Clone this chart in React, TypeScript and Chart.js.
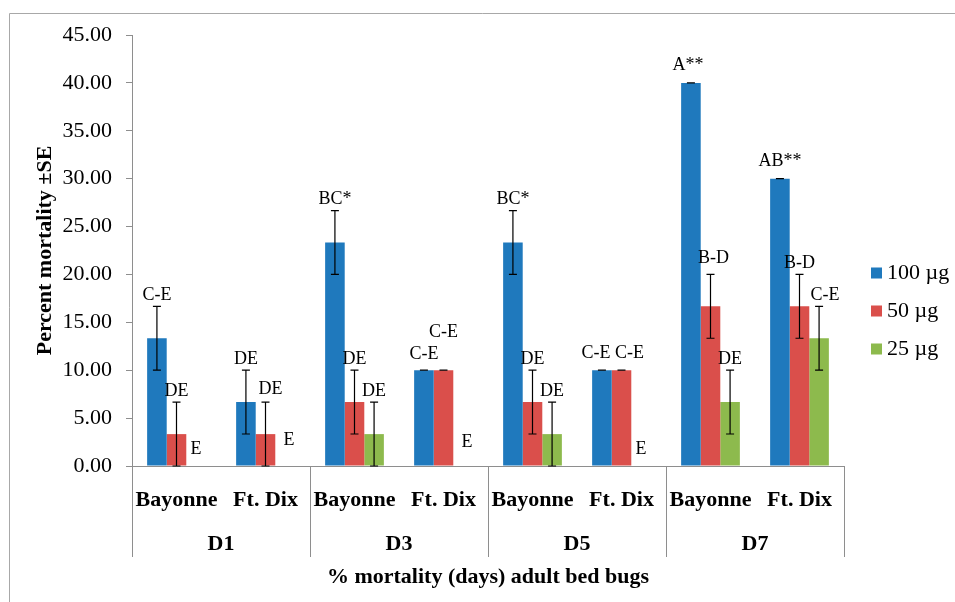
import React, { useEffect, useRef } from 'react';
import { Chart, registerables } from 'chart.js';

Chart.register(...registerables);

// ---------- data ----------
const CATEGORIES = ['Bayonne', 'Ft. Dix', 'Bayonne', 'Ft. Dix', 'Bayonne', 'Ft. Dix', 'Bayonne', 'Ft. Dix'];
const DAYS = ['D1', 'D3', 'D5', 'D7'];
const SERIES_NAMES = ['100 µg', '50 µg', '25 µg'];

const MORT_100 = [13.33, 6.67, 23.33, 10, 23.33, 10, 40, 30];
const SE_100 = [3.33, 3.33, 3.33, 0, 3.33, 0, 0, 0];
const MORT_50 = [3.33, 3.33, 6.67, 10, 6.67, 10, 16.67, 16.67];
const SE_50 = [3.33, 3.33, 3.33, 0, 3.33, 0, 3.33, 3.33];
const MORT_25 = [0, 0, 3.33, 0, 3.33, 0, 6.67, 13.33];
const SE_25 = [0, 0, 3.33, 0, 3.33, 0, 3.33, 3.33];

const LETTERS_100 = ['C-E', 'DE', 'BC*', 'C-E', 'BC*', 'C-E', 'A**', 'AB**'];
const LETTERS_50 = ['DE', 'DE', 'DE', 'C-E', 'DE', 'C-E', 'B-D', 'B-D'];
const LETTERS_25 = ['E', 'E', 'DE', 'E', 'DE', 'E', 'DE', 'C-E'];

const Y_MIN = 0;
const Y_MAX = 45;
const Y_STEP = 5;

const Y_TITLE = 'Percent mortality ±SE';
const X_TITLE = '% mortality (days) adult bed bugs';

// ---------- style ----------
const COLORS = ['#1f79bd', '#da4f4b', '#8dba4d'];
const AXIS_GRAY = '#8e8e8e';
const FRAME_GRAY = '#a8a8a8';
const SERIF = '"Liberation Serif", "DejaVu Serif", serif';

// label nudges (dx, extra lift in px) keyed "series-index"
const LABEL_NUDGE: Record<string, [number, number]> = {
  '0-3': [0, 5], '0-5': [-6, 6], '0-6': [-3, 7], '0-7': [0, 6],
  '1-1': [5, 2], '1-3': [0, 27], '1-5': [8, 6], '1-6': [3, 5],
  '2-0': [0, 6], '2-1': [4, 15], '2-3': [4, 13], '2-5': [0, 6], '2-7': [6, 0],
};

const values = [MORT_100, MORT_50, MORT_25];
const errors = [SE_100, SE_50, SE_25];
const letters = [LETTERS_100, LETTERS_50, LETTERS_25];

const overlayPlugin = {
  id: 'overlay',
  beforeDraw(chart: any) {
    const ctx = chart.ctx;
    ctx.save();
    ctx.strokeStyle = FRAME_GRAY;
    ctx.lineWidth = 1;
    ctx.beginPath();
    ctx.moveTo(9.5, chart.height);
    ctx.lineTo(9.5, 13.5);
    ctx.lineTo(chart.width, 13.5);
    ctx.stroke();
    ctx.restore();
  },
  afterDatasetsDraw(chart: any) {
    const ctx = chart.ctx;
    const y = chart.scales.y;
    ctx.save();
    ctx.strokeStyle = '#000';
    ctx.lineWidth = 1.2;
    for (let s = 0; s < values.length; s++) {
      const meta = chart.getDatasetMeta(s);
      meta.data.forEach((el: any, i: number) => {
        const v = values[s][i];
        const e = errors[s][i];
        const x = el.x;
        const top = y.getPixelForValue(v + e);
        const bot = y.getPixelForValue(Math.max(0, v - e));
        if (v > 0 || e > 0) {
          ctx.beginPath();
          ctx.moveTo(x, top);
          ctx.lineTo(x, bot);
          ctx.moveTo(x - 4, top);
          ctx.lineTo(x + 4, top);
          ctx.moveTo(x - 4, bot);
          ctx.lineTo(x + 4, bot);
          ctx.stroke();
        }
        const nudge = LABEL_NUDGE[`${s}-${i}`] || [0, 0];
        ctx.fillStyle = '#000';
        ctx.font = `18px ${SERIF}`;
        ctx.textAlign = 'center';
        ctx.textBaseline = 'middle';
        ctx.fillText(letters[s][i], x + nudge[0], top - 11 - nudge[1]);
      });
    }
    ctx.restore();
  },
  afterDraw(chart: any) {
    const ctx = chart.ctx;
    const x = chart.scales.x;
    const area = chart.chartArea;
    ctx.save();
    // group separators
    ctx.strokeStyle = AXIS_GRAY;
    ctx.lineWidth = 1;
    const bounds: number[] = [];
    for (let g = 0; g <= DAYS.length; g++) {
      let px: number;
      if (g === 0) px = area.left;
      else if (g === DAYS.length) px = area.right;
      else px = (x.getPixelForValue(2 * g - 1) + x.getPixelForValue(2 * g)) / 2;
      bounds.push(px);
      const xx = Math.round(px) + 0.5;
      ctx.beginPath();
      ctx.moveTo(xx, area.bottom);
      ctx.lineTo(xx, area.bottom + 91);
      ctx.stroke();
    }
    // day labels
    ctx.fillStyle = '#000';
    ctx.font = `bold 22px ${SERIF}`;
    ctx.textAlign = 'center';
    ctx.textBaseline = 'middle';
    DAYS.forEach((d, g) => {
      ctx.fillText(d, (bounds[g] + bounds[g + 1]) / 2, area.bottom + 78);
    });
    // legend
    ctx.font = `22px ${SERIF}`;
    ctx.textAlign = 'left';
    SERIES_NAMES.forEach((n, s) => {
      const cy = 273 + s * 38;
      ctx.fillStyle = COLORS[s];
      ctx.fillRect(871, cy - 5.5, 11, 11);
      ctx.fillStyle = '#000';
      ctx.fillText(n, 887, cy);
    });
    ctx.restore();
  },
};

export default function App() {
  const ref = useRef<HTMLCanvasElement>(null);
  useEffect(() => {
    if (!ref.current) return;
    const chart = new Chart(ref.current, {
      type: 'bar',
      data: {
        labels: CATEGORIES,
        datasets: SERIES_NAMES.map((name, s) => ({
          label: name,
          data: values[s],
          backgroundColor: COLORS[s],
          borderWidth: 0,
          categoryPercentage: 0.66,
          barPercentage: 1,
        })),
      },
      options: {
        responsive: false,
        animation: false,
        layout: { padding: { top: 35, right: 111, bottom: 0, left: 0 } },
        plugins: {
          legend: { display: false },
          tooltip: { enabled: false },
        },
        scales: {
          x: {
            grid: { display: false, drawTicks: false },
            border: { display: true, color: AXIS_GRAY, width: 1 },
            ticks: {
              color: '#000',
              font: { family: SERIF, size: 22, weight: 'bold' },
              padding: 21,
              maxRotation: 0,
              autoSkip: false,
            },
            title: {
              display: true,
              text: X_TITLE,
              color: '#000',
              font: { family: SERIF, size: 22, weight: 'bold' },
              padding: { top: 0, bottom: 11 },
            },
            afterFit(scale: any) {
              scale.height = 136;
            },
          },
          y: {
            min: Y_MIN,
            max: Y_MAX,
            grid: {
              drawOnChartArea: false,
              drawTicks: true,
              tickLength: 6,
              color: AXIS_GRAY,
            },
            border: { display: true, color: AXIS_GRAY, width: 1 },
            ticks: {
              stepSize: Y_STEP,
              color: '#000',
              font: { family: SERIF, size: 22 },
              padding: 14,
              callback: (v: any) => Number(v).toFixed(2),
            },
            title: {
              display: true,
              text: Y_TITLE,
              color: '#000',
              font: { family: SERIF, size: 22, weight: 'bold' },
              padding: { top: 32, bottom: 0 },
            },
            afterFit(scale: any) {
              scale.width = 132;
            },
          },
        },
      },
      plugins: [overlayPlugin],
    });
    return () => chart.destroy();
  }, []);
  return (
    <div style={{ position: 'absolute', left: 0, top: 0, width: 955, height: 602, background: '#fff' }}>
      <canvas ref={ref} width={955} height={602} />
    </div>
  );
}
